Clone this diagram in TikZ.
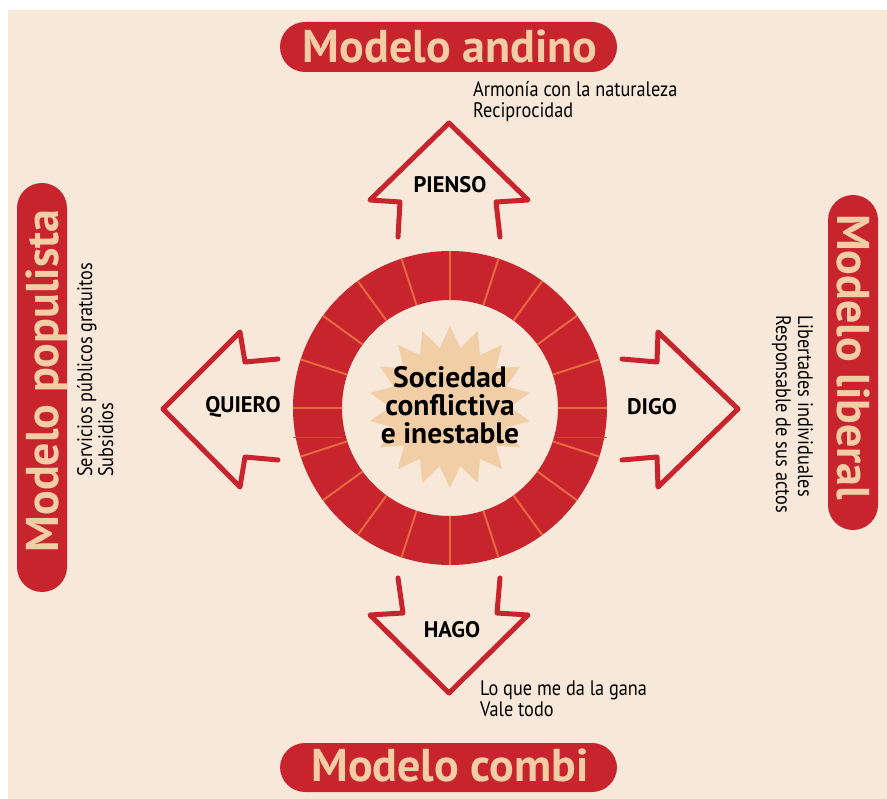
\documentclass[tikz,border=0pt]{standalone}
\usepackage{fontspec}
\setmainfont{PT Sans}
\newfontfamily\condfont[FakeStretch=0.87]{PT Sans}
\definecolor{bgc}{HTML}{F8E8D9}
\definecolor{redc}{HTML}{C8242D}
\definecolor{tanc}{HTML}{F3CDA6}
\definecolor{segc}{HTML}{E7693F}
\definecolor{starc}{HTML}{F2CEA6}
\tikzset{
  pill/.style={fill=redc, rounded corners=25pt},
  headtxt/.style={text=tanc, font=\fontsize{46}{46}\selectfont\bfseries, inner sep=0pt},
  subtxt/.style={text=black, font=\condfont\fontsize{21}{21}\selectfont, inner sep=0pt},
  arr/.style={draw=redc, line width=5pt, line join=round, line cap=round},
  lbl/.style={text=black, font=\fontsize{22.5}{22.5}\selectfont\bfseries, inner sep=0pt},
  segline/.style={draw=segc, line width=2pt}
}
\begin{document}
\begin{tikzpicture}[x=1pt,y=-1pt]
\useasboundingbox (0,0) rectangle (887,799);
\fill[bgc] (8,10) rectangle (887,799);

% pills
\fill[pill] (280,22) rectangle (617,72);
\fill[pill] (280,743) rectangle (617,792);
\fill[pill] (17,183) rectangle (67,592);
\fill[pill] (828,195) rectangle (878,530);

\node[headtxt, anchor=base] (andino) at (450,63) {Modelo andino};
\node[headtxt, anchor=base] (combi) at (450,781) {Modelo combi};
\node[headtxt, anchor=base, rotate=90] (populista) at (58,381) {Modelo populista};
\node[headtxt, anchor=base, rotate=-90] (liberal) at (837,357) {Modelo liberal};

% sub texts
\node[subtxt, anchor=base west] (a1) at (473,97) {Armonía con la naturaleza};
\node[subtxt, anchor=base west] (a2) at (473,118) {Reciprocidad};
\node[subtxt, anchor=base west] (c1) at (480,695) {Lo que me da la gana};
\node[subtxt, anchor=base west] (c2) at (480,716) {Vale todo};
\node[subtxt, anchor=base west, rotate=90] (p1) at (92,477) {Servicios públicos gratuitos};
\node[subtxt, anchor=base west, rotate=90] (p2) at (113,477) {Subsidios};
\node[subtxt, anchor=base west, rotate=-90] (l1) at (798,315) {Libertades individuales};
\node[subtxt, anchor=base west, rotate=-90] (l2) at (776,315) {Responsable de sus actos};

% ring
\fill[redc, even odd rule] (450,408) circle[radius=157] (450,408) circle[radius=108];
\foreach \a in {0,18,...,342} {
  \draw[segline, shift={(450,408)}] (\a:108) -- (\a:157);
}
\draw[segc!50!redc, line width=0.8pt] (293,437) -- (342,437);
\draw[segc!50!redc, line width=0.8pt] (557,437) -- (607,437);

% star
\fill[starc] plot[variable=\k, samples at={0,...,35}]
  ({450+(81-21*mod(\k,2))*cos(\k*10+90)}, {407+(81-21*mod(\k,2))*sin(\k*10+90)}) -- cycle;

\node[text=black, font=\fontsize{29.5}{28}\selectfont\bfseries, align=center, inner sep=0pt] (centro) at (450,405)
  {Sociedad\\conflictiva\\e inestable};

% arrows
\draw[arr] (398,237) -- (400,202) -- (370,200) -- (449,123) -- (528,200) -- (496,202) -- (500,237);
\draw[arr] (398,578) -- (403,613) -- (370,615) -- (449,693) -- (528,615) -- (497,613) -- (500,578);
\draw[arr] (278,359) -- (245,362) -- (240,332) -- (163,409) -- (240,487) -- (245,457) -- (278,460);
\draw[arr] (622,359) -- (657,362) -- (658,332) -- (738,409) -- (658,487) -- (657,457) -- (622,460);

\node[lbl] (pienso) at (450,185) {PIENSO};
\node[lbl] (hago) at (452,630) {HAGO};
\node[lbl] (quiero) at (243,407) {QUIERO};
\node[lbl] (digo) at (652,407) {DIGO};
\end{tikzpicture}
\end{document}
